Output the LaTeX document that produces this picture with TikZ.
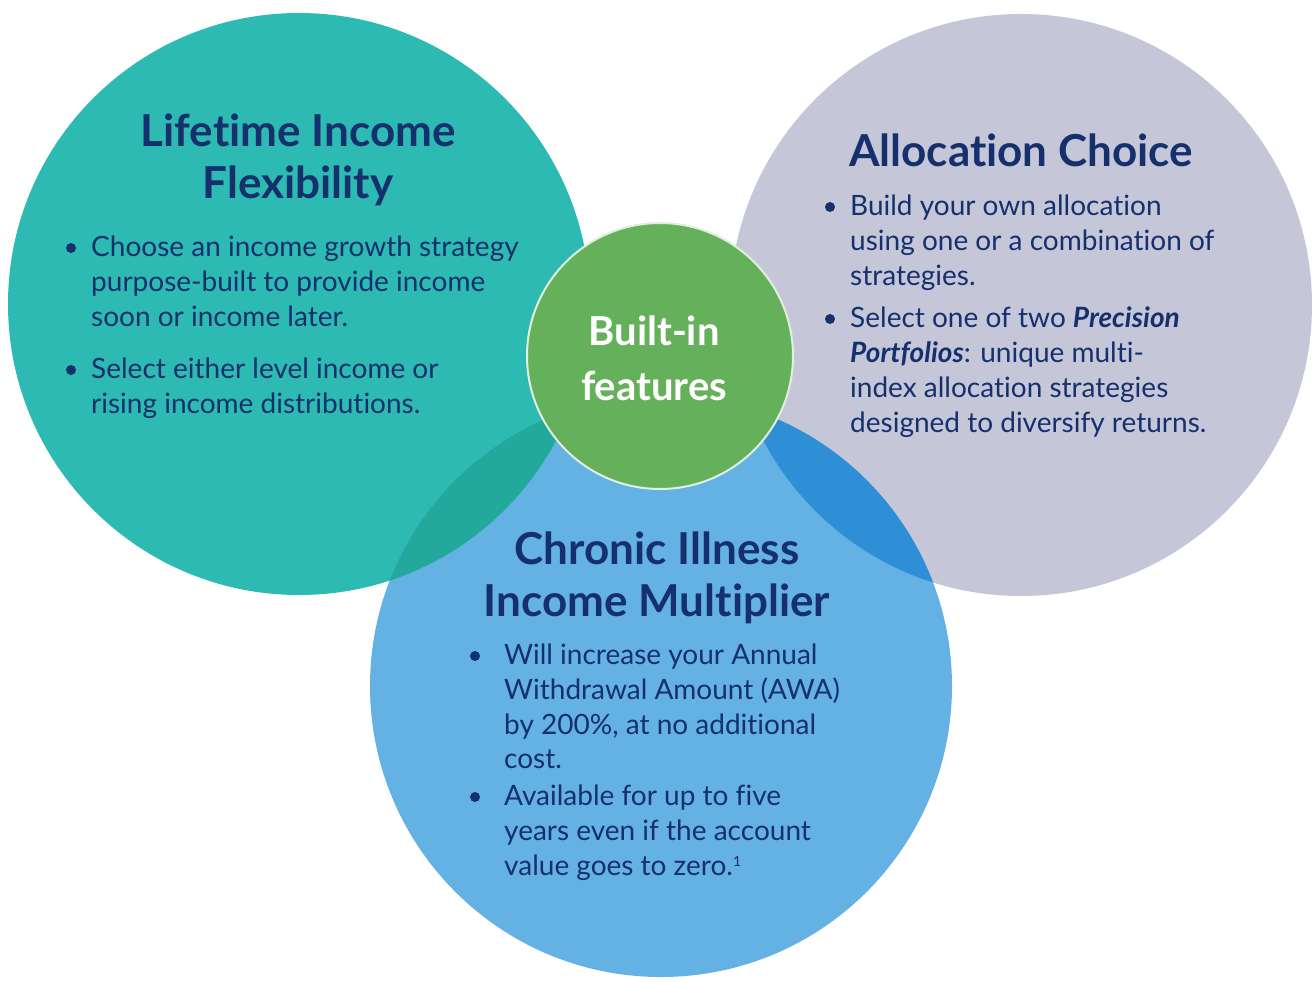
\documentclass[tikz,border=0pt]{standalone}
\usepackage{fontspec}
\setmainfont[Ligatures=NoCommon]{Lato}
\definecolor{tealc}{HTML}{2DBAB3}
\definecolor{grayc}{HTML}{C5C7D9}
\definecolor{bluec}{HTML}{64B1E4}
\definecolor{greenc}{HTML}{65B15B}
\definecolor{tealov}{HTML}{22A99B}
\definecolor{blueov}{HTML}{2E8ED6}
\definecolor{navy}{HTML}{15306C}
\begin{document}
\begin{tikzpicture}[x=1pt,y=-1pt,
  bigcirc/.style={circle,inner sep=0pt,minimum size=582pt},
  titletxt/.style={text=navy,font=\fontsize{44}{52}\selectfont\bfseries,align=center,inner sep=0pt},
  bodytxt/.style={text=navy,font=\fontsize{28}{34.7}\selectfont,align=left,anchor=north west,inner sep=0pt},
  dot/.style={circle,fill=navy,inner sep=0pt,minimum size=10pt}]
\useasboundingbox (0,0) rectangle (1312,982);
\fill[white] (0,0) rectangle (1312,982);
% circles
\node[bigcirc,fill=tealc] (teal) at (299,304) {};
\node[bigcirc,fill=grayc] (gray) at (1021,305) {};
\node[bigcirc,fill=bluec] (blue) at (661,686) {};
\begin{scope}
  \clip (661,686) circle (291);
  \fill[tealov] (299,304) circle (291);
  \fill[blueov] (1021,305) circle (291);
\end{scope}
\node[circle,fill=greenc,draw=white!80!greenc,line width=2pt,minimum size=266pt,inner sep=0pt] (green) at (660,356) {};
% center text
\node[text=white,font=\fontsize{40}{55}\selectfont\bfseries,align=center] (ctext) at (654,358) {Built-in\\features};
% left circle
\node[titletxt] (t1) at (298,160) {Lifetime Income\\Flexibility};
\node[dot] (d1a) at (71,248) {};
\node[bodytxt] (b1a) at (91,236) {Choose an income growth strategy\\purpose-built to provide income\\soon or income later.};
\node[dot] (d1b) at (71,370) {};
\node[bodytxt] (b1b) at (91,358) {Select either level income or\\rising income distributions.};
% right circle
\node[titletxt] (t2) at (1021,150) {Allocation Choice};
\node[dot] (d2a) at (830,207) {};
\node[bodytxt] (b2a) at (850,195) {Build your own allocation\\using one or a combination of\\strategies.};
\node[dot] (d2b) at (830,319) {};
\node[bodytxt] (b2b) at (850,307) {Select one of two \textbf{\itshape Precision}\\\textbf{\itshape Portfolios}: unique multi-\\index allocation strategies\\designed to diversify returns.};
% bottom circle
\node[titletxt] (t3) at (657,578) {Chronic Illness\\Income Multiplier};
\node[dot] (d3a) at (475,656) {};
\node[bodytxt] (b3a) at (504,644) {Will increase your Annual\\Withdrawal Amount (AWA)\\by 200\%, at no additional\\cost.};
\node[dot] (d3b) at (475,797) {};
\node[bodytxt] (b3b) at (504,785) {Available for up to five\\years even if the account\\value goes to zero.\textsuperscript{\fontsize{14}{14}\selectfont 1}};
\end{tikzpicture}
\end{document}
